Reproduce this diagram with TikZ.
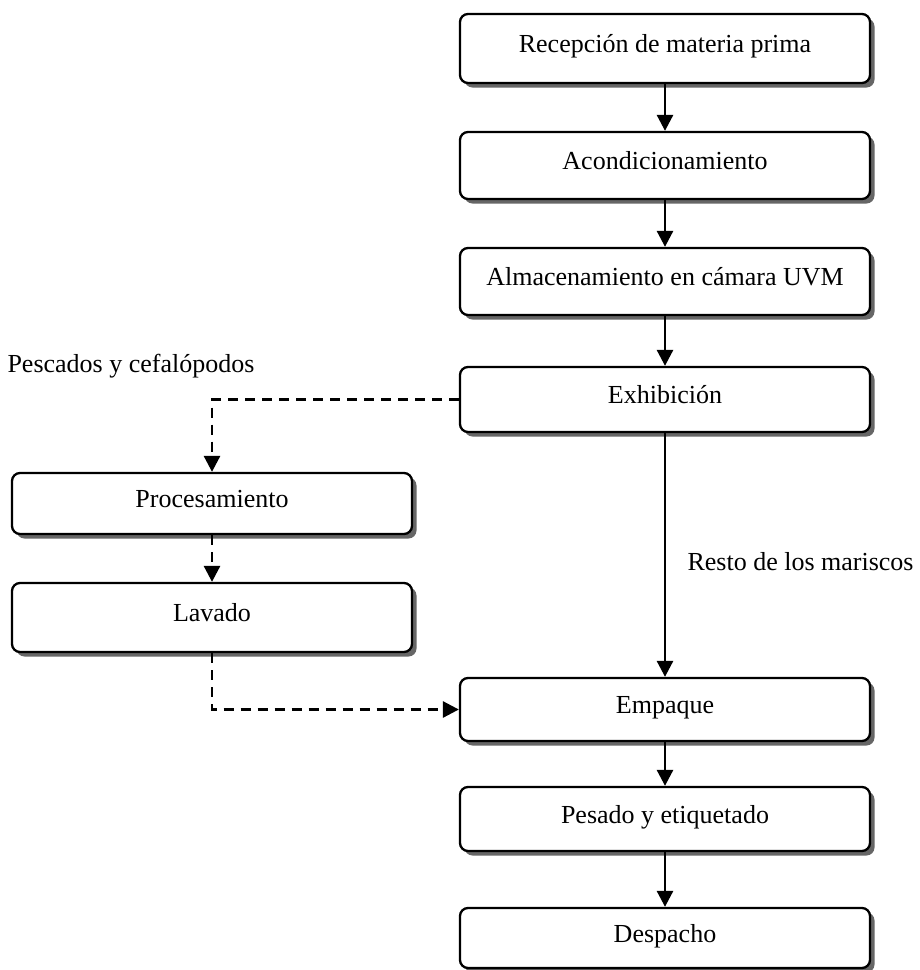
\documentclass[tikz,border=0pt]{standalone}
\usepackage{fontspec}
\setmainfont{Liberation Serif}
\usepackage{tikz}
\usetikzlibrary{arrows.meta,shadows}
\tikzset{
	caja/.style={draw, line width=2.3pt, rounded corners=8pt, fill=white, minimum width=410pt,
		text height=19pt, text depth=11pt,
		drop shadow={shadow xshift=4.5pt, shadow yshift=-4.5pt, fill=black!60, opacity=1}},
	cajaizq/.style={caja, minimum width=400pt},
	flecha/.style={line width=2.8pt, -{Triangle[length=16pt,width=16pt]}},
	rayas/.style={flecha, dash pattern=on 10pt off 7pt}
}

\begin{document}
\begin{tikzpicture}[x=1pt, y=-1pt, font=\fontsize{26}{31}\selectfont]
			%%%%% START %%%%%
			
			\useasboundingbox (0, 0) rectangle (920, 970);
			
			\node[caja, minimum height=69pt] (recepcion) at (665, 48.5) {Recepción de materia prima};
			\node[caja, minimum height=67pt] (acond) at (665, 165.5) {Acondicionamiento};
			\node[caja, minimum height=67pt] (almacen) at (665, 281.5) {Almacenamiento en cámara UVM};
			\node[caja, minimum height=65pt] (exhib) at (665, 399.5) {Exhibición};
			
			\node[cajaizq, minimum height=61pt] (proces) at (212, 503.5) {Procesamiento};
			\node[cajaizq, minimum height=69pt] (lavado) at (212, 617.5) {Lavado};
			
			\node[caja, minimum height=63pt] (empaque) at (665, 709.5) {Empaque};
			\node[caja, minimum height=64pt] (pesado) at (665, 819) {Pesado y etiquetado};
			\node[caja, minimum height=60pt] (despacho) at (665, 938) {Despacho};
			
			\node[anchor=west] (pescados) at (4, 366) {Pescados y cefalópodos};
			\node[anchor=west] (resto) at (684, 562) {Resto de los mariscos};
			
			\draw[flecha] (recepcion) -- (acond);
			\draw[flecha] (acond) -- (almacen);
			\draw[flecha] (almacen) -- (exhib);
			\draw[flecha] (exhib) -- (empaque);
			\draw[flecha] (empaque) -- (pesado);
			\draw[flecha] (pesado) -- (despacho);
			
			\draw[rayas] (exhib.west) -| (proces.north);
			\draw[rayas] (proces) -- (lavado);
			\draw[rayas] (lavado.south) |- (empaque.west);
			
			%%%%% END %%%%%
		\end{tikzpicture}
\end{document}
